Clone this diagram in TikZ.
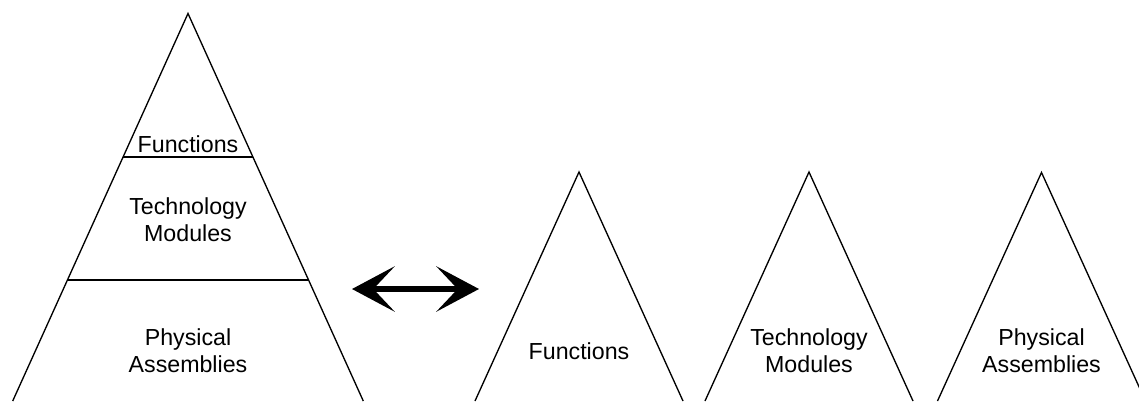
\documentclass[tikz,border=0pt]{standalone}
\usepackage{fontspec}
\setmainfont{Liberation Sans}
\usetikzlibrary{arrows.meta,calc}
\begin{document}
\begin{tikzpicture}[x=0.75pt,y=-0.75pt,
  side/.style={line width=1pt, line join=miter},
  divider/.style={line width=1.4pt},
  label/.style={font=\fontsize{17.4}{19.6}\selectfont, align=center, anchor=base, inner sep=0pt},
  biarrow/.style={line width=4.9pt,
    {Stealth[length=32pt,width=34pt,inset=16pt]}-{Stealth[length=32pt,width=34pt,inset=16pt]}}]
\clip (0,0) rectangle (1139,401);

% layered pyramid
\coordinate (P) at (188,13.5);
\coordinate (PL) at (12.7,401);
\coordinate (PR) at (363.3,401);
\draw[side] (PL) -- (P) -- (PR);
\coordinate (d1l) at ($(P)!0.3703!(PL)$);
\coordinate (d1r) at ($(P)!0.3703!(PR)$);
\coordinate (d2l) at ($(P)!0.6877!(PL)$);
\coordinate (d2r) at ($(P)!0.6877!(PR)$);
\draw[divider] (d1l) -- (d1r);
\draw[divider] (d2l) -- (d2r);
% labels sit on the baseline of their last line
\node[label] (pf) at (188,152) {Functions};
\node[label] (pt) at (188,241) {Technology\\Modules};
\node[label] (pa) at (188,372) {Physical\\Assemblies};

% double arrow
\coordinate (al) at (352,289);
\coordinate (ar) at (479,289);
\draw[biarrow] (al) -- (ar);

% separate pyramids
\coordinate (A) at (579,172);
\coordinate (AL) at (475,401);
\coordinate (AR) at (683,401);
\draw[side] (AL) -- (A) -- (AR);
\coordinate (B) at (809,172);
\coordinate (BL) at (705,401);
\coordinate (BR) at (913,401);
\draw[side] (BL) -- (B) -- (BR);
\coordinate (C) at (1041.5,172.5);
\coordinate (CL) at (937.5,401);
\coordinate (CR) at (1145.5,401);
\draw[side] (CL) -- (C) -- (CR);
\node[label] (af) at (579,359) {Functions};
\node[label] (bt) at (809,372) {Technology\\Modules};
\node[label] (ca) at (1041.5,372) {Physical\\Assemblies};
\end{tikzpicture}
\end{document}
